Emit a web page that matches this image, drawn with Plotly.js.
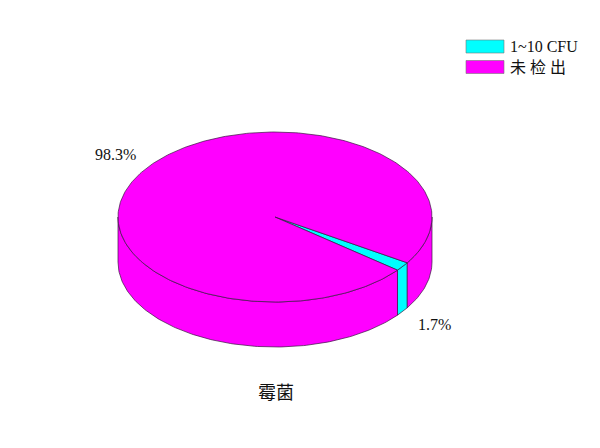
<!DOCTYPE html>
<html>
<head>
<meta charset="utf-8">
<script src="https://cdn.plot.ly/plotly-3.0.1.min.js"></script>
<style>html,body{margin:0;padding:0;background:#fff;}#chart{width:600px;height:448px;}</style>
</head>
<body>
<div id="chart"></div>
<script>
// ---- data ----
var categories = ['1~10 CFU', '未检出'];
var legendLabels = ['1~10 CFU', '未 检 出'];
var values = [1.7, 98.3];
var chartTitle = '霉菌';
var sliceColors = ['#00FFFF', '#FF00FF'];

// ---- geometry (pixel space of the plot) ----
var CX = 275, CY = 217, RX = 157, RY = 85, DEPTH = 45;
var START = 32.6; // degrees, screen-clockwise from the right
var EDGE = '#3a1840';
var FONT = 'Liberation Serif, Times New Roman, Noto Sans CJK SC, serif';

function rim(tDeg, dz) {
  var t = tDeg * Math.PI / 180;
  return [CX + RX * Math.cos(t), CY + RY * Math.sin(t) + dz];
}
function arc(a, b, dz) {
  var pts = [], n = Math.max(2, Math.ceil(Math.abs(b - a) / 1));
  for (var i = 0; i <= n; i++) pts.push(rim(a + (b - a) * i / n, dz));
  return pts;
}

var total = values.reduce(function (s, v) { return s + v; }, 0);
var slices = [], acc = START;
values.forEach(function (v, i) {
  var span = v / total * 360;
  slices.push({ a: acc, b: acc + span, i: i });
  acc += span;
});

var sideTraces = [], topTraces = [];
slices.forEach(function (s) {
  // front visible range: [0,180] + k*360
  for (var k = -1; k <= 2; k++) {
    var lo = Math.max(s.a, k * 360), hi = Math.min(s.b, k * 360 + 180);
    if (hi > lo) {
      var top = arc(lo, hi, 0), bot = arc(hi, lo, DEPTH);
      var pts = top.concat(bot); pts.push(top[0]);
      sideTraces.push({
        type: 'scatter', mode: 'lines', fill: 'toself',
        x: pts.map(function (p) { return p[0]; }),
        y: pts.map(function (p) { return p[1]; }),
        fillcolor: sliceColors[s.i], line: { color: EDGE, width: 0.7 },
        hoverinfo: 'skip', showlegend: false
      });
    }
  }
  var ap = arc(s.a, s.b, 0);
  var wp = [[CX, CY]].concat(ap); wp.push([CX, CY]);
  topTraces.push({
    type: 'scatter', mode: 'lines', fill: 'toself',
    x: wp.map(function (p) { return p[0]; }),
    y: wp.map(function (p) { return p[1]; }),
    fillcolor: sliceColors[s.i], line: { color: EDGE, width: 0.7 },
    name: categories[s.i], hoverinfo: 'skip', showlegend: false
  });
});

var pctLabels = values.map(function (v) { return v.toFixed(1) + '%'; });
var labelPos = [[434, 324], [115, 154]];

var annotations = [];
values.forEach(function (v, i) {
  annotations.push({
    x: labelPos[i][0], y: labelPos[i][1], xref: 'x', yref: 'y',
    text: pctLabels[i], showarrow: false,
    font: { family: FONT, size: 16, color: '#111' }
  });
});
annotations.push({
  x: 276, y: 393, xref: 'x', yref: 'y', text: chartTitle, showarrow: false,
  font: { family: FONT, size: 18, color: '#111' }
});

// legend (boxes + text)
var shapes = [];
var legY = [46.5, 67];
legendLabels.forEach(function (lab, i) {
  shapes.push({
    type: 'rect', xref: 'x', yref: 'y',
    x0: 466, x1: 504, y0: legY[i] - 6.5, y1: legY[i] + 6.5,
    fillcolor: sliceColors[i], line: { color: '#777', width: 0.6 }
  });
  annotations.push({
    x: 508, y: legY[i], xref: 'x', yref: 'y', xanchor: 'left',
    text: lab, showarrow: false,
    font: { family: FONT, size: 16, color: '#111' }
  });
});

var layout = {
  width: 600, height: 448,
  margin: { l: 0, r: 0, t: 0, b: 0 },
  paper_bgcolor: '#fff', plot_bgcolor: '#fff',
  xaxis: { range: [0, 600], visible: false, fixedrange: true },
  yaxis: { range: [448, 0], visible: false, fixedrange: true },
  showlegend: false,
  annotations: annotations,
  shapes: shapes
};

Plotly.newPlot('chart', sideTraces.concat(topTraces), layout, { staticPlot: true });
</script>
</body>
</html>
